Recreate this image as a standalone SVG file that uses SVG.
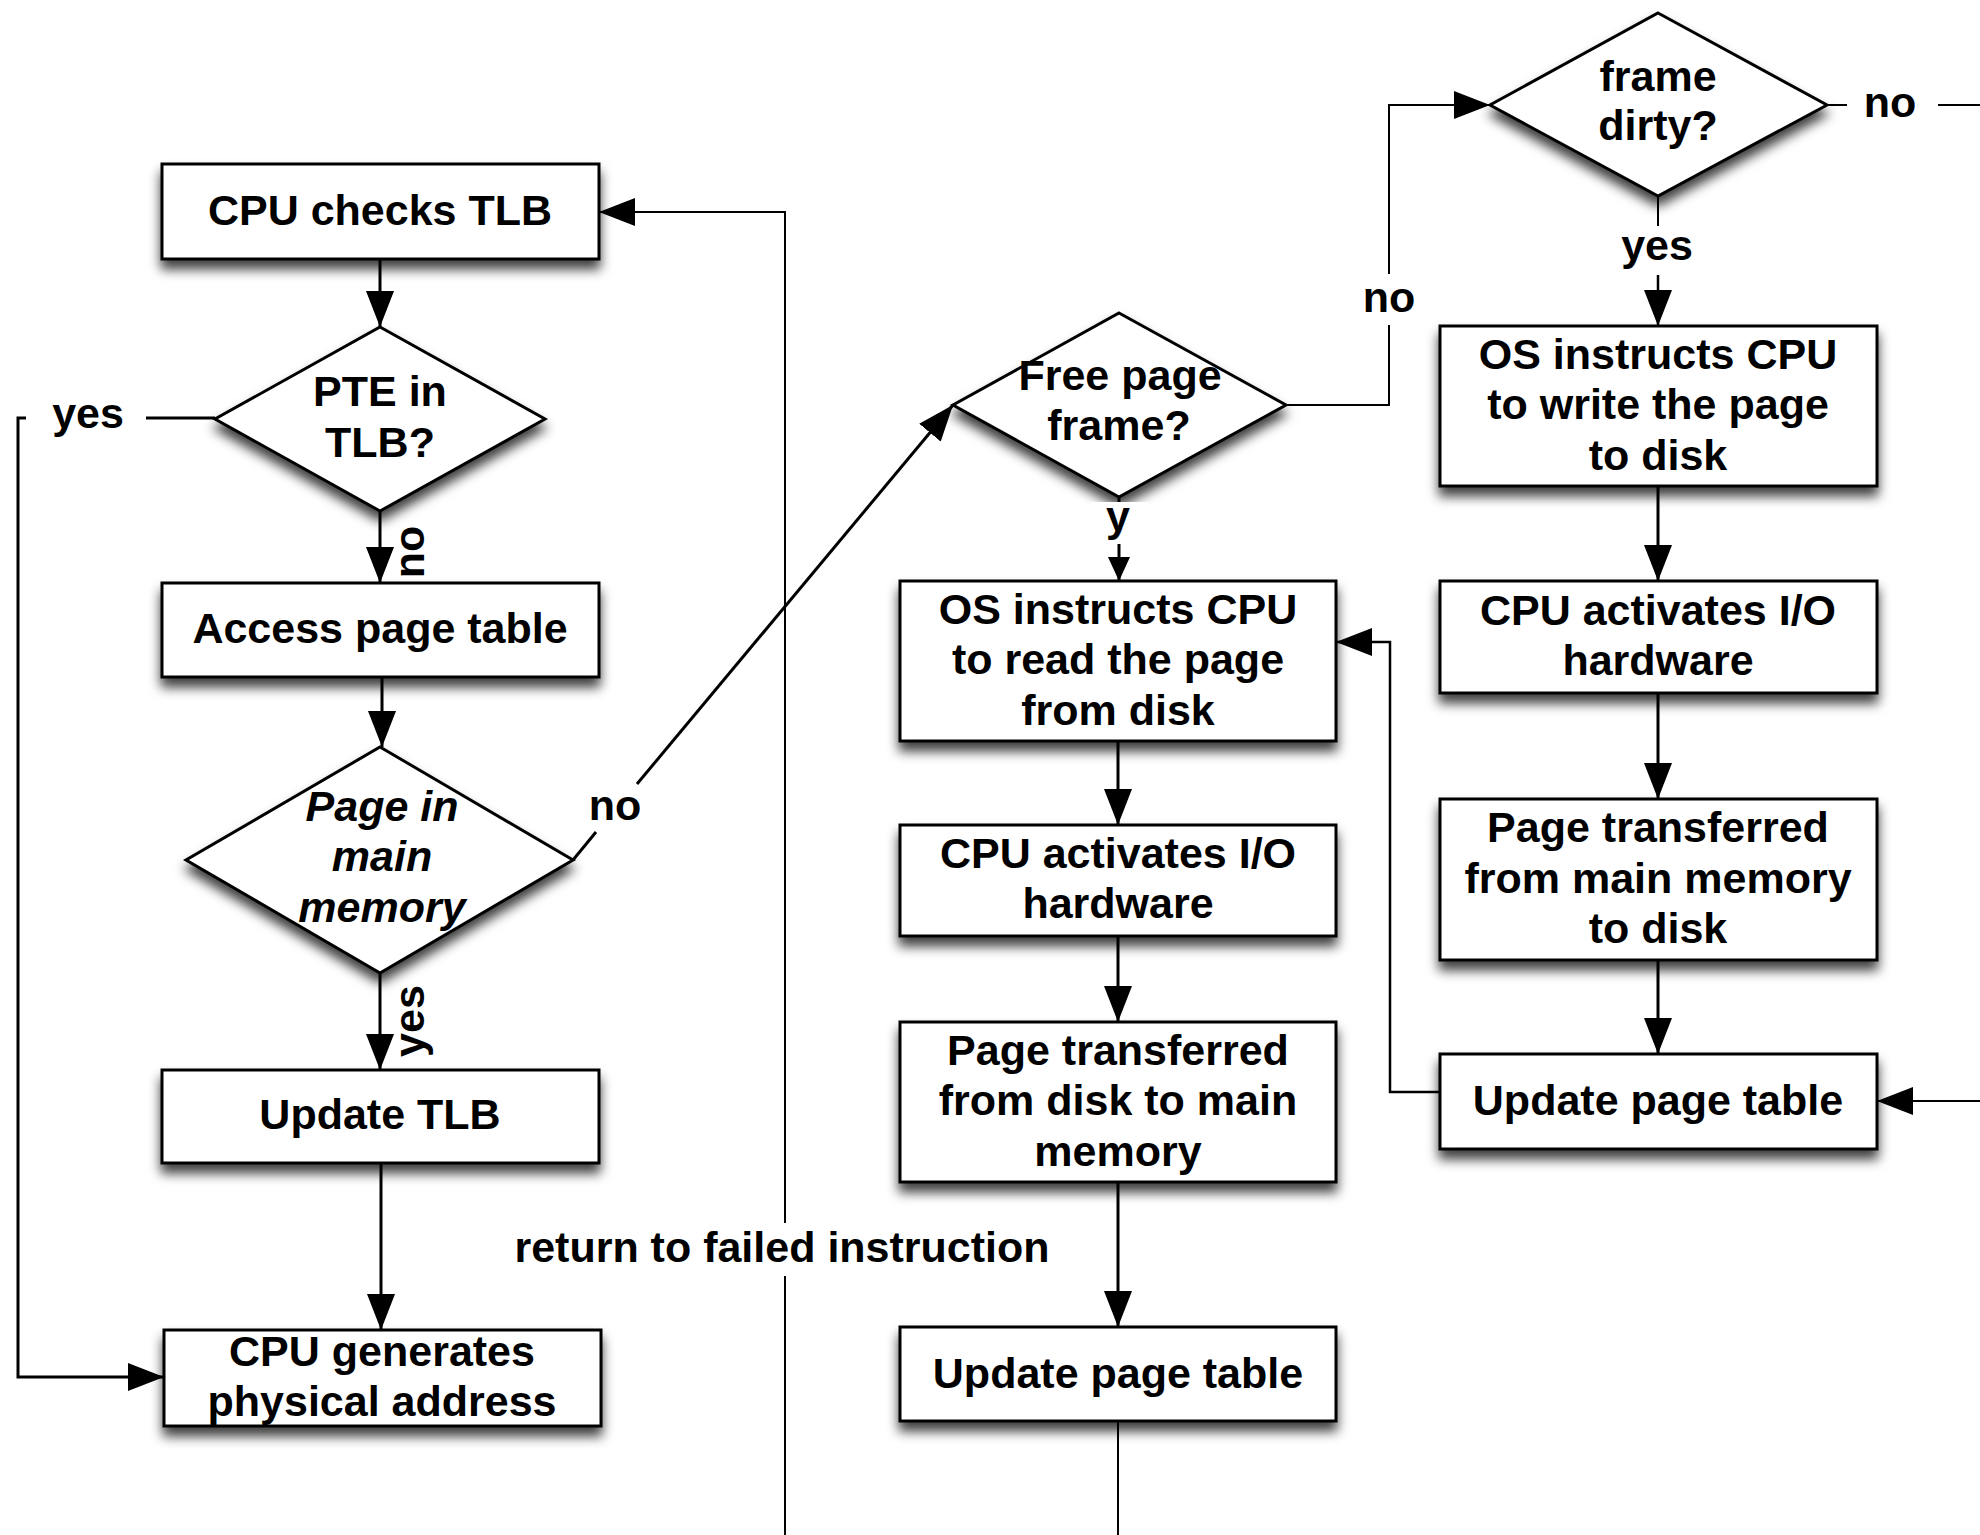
<svg xmlns="http://www.w3.org/2000/svg" width="1980" height="1535" viewBox="0 0 1980 1535">
<style>
.bg{fill:#fff}
.box{fill:#fff;stroke:#000;stroke-width:3;filter:url(#sh)}
.t{font-family:"Liberation Sans",Arial,Helvetica,sans-serif;font-weight:bold;font-size:43px;text-anchor:middle;fill:#000}
.ti{font-style:italic}
.c{fill:none;stroke:#000;stroke-width:3}
.thin{stroke-width:2}
.mid{stroke-width:2.5}
</style>
<defs>
<filter id="sh" x="-15%" y="-25%" width="130%" height="170%">
<feDropShadow dx="0" dy="9" stdDeviation="6" flood-color="#000" flood-opacity="0.75"/>
</filter>
<marker id="ah" markerUnits="userSpaceOnUse" markerWidth="37" markerHeight="28" refX="36" refY="14" orient="auto">
<path d="M0,0 L36,14 L0,28 z" fill="#000"/>
</marker>
<marker id="ahs" markerUnits="userSpaceOnUse" markerWidth="25" markerHeight="22" refX="24" refY="11" orient="auto">
<path d="M0,0 L24,11 L0,22 z" fill="#000"/>
</marker>
</defs>
<rect class="bg" x="0" y="0" width="1980" height="1535"/>

<g id="n1"><rect class="box" x="162" y="164" width="437" height="95"/><text class="t" x="380" y="225">CPU checks TLB</text></g>
<g id="n2"><polygon class="box" points="380,327 545,419 380,511 215,419"/><text class="t" x="380" y="406">PTE in</text><text class="t" x="380" y="457">TLB?</text></g>
<g id="n3"><rect class="box" x="162" y="583" width="437" height="94"/><text class="t" x="380" y="643">Access page table</text></g>
<g id="n4"><polygon class="box" points="380,747 573,860 380,973 186,860"/><text class="t ti" x="382" y="821">Page in</text><text class="t ti" x="382" y="871">main</text><text class="t ti" x="382" y="922">memory</text></g>
<g id="n5"><rect class="box" x="162" y="1070" width="437" height="93"/><text class="t" x="380" y="1129">Update TLB</text></g>
<g id="n6"><rect class="box" x="164" y="1330" width="437" height="96"/><text class="t" x="382" y="1366">CPU generates</text><text class="t" x="382" y="1416">physical address</text></g>
<g id="n7"><polygon class="box" points="1119,313 1286,405 1119,497 953,405"/><text class="t" x="1120" y="390">Free page</text><text class="t" x="1119" y="440">frame?</text></g>
<g id="n8"><rect class="box" x="900" y="581" width="436" height="160"/><text class="t" x="1118" y="624">OS instructs CPU</text><text class="t" x="1118" y="674">to read the page</text><text class="t" x="1118" y="725">from disk</text></g>
<g id="n9"><rect class="box" x="900" y="825" width="436" height="111"/><text class="t" x="1118" y="868">CPU activates I/O</text><text class="t" x="1118" y="918">hardware</text></g>
<g id="n10"><rect class="box" x="900" y="1022" width="436" height="160"/><text class="t" x="1118" y="1065">Page transferred</text><text class="t" x="1118" y="1115">from disk to main</text><text class="t" x="1118" y="1166">memory</text></g>
<g id="n11"><rect class="box" x="900" y="1327" width="436" height="94"/><text class="t" x="1118" y="1388">Update page table</text></g>
<g id="n12"><polygon class="box" points="1658,13 1827,105 1658,196 1490,105"/><text class="t" x="1658" y="91">frame</text><text class="t" x="1658" y="140">dirty?</text></g>
<g id="n13"><rect class="box" x="1440" y="326" width="437" height="160"/><text class="t" x="1658" y="369">OS instructs CPU</text><text class="t" x="1658" y="419">to write the page</text><text class="t" x="1658" y="470">to disk</text></g>
<g id="n14"><rect class="box" x="1440" y="581" width="437" height="112"/><text class="t" x="1658" y="625">CPU activates I/O</text><text class="t" x="1658" y="675">hardware</text></g>
<g id="n15"><rect class="box" x="1440" y="799" width="437" height="161"/><text class="t" x="1658" y="842">Page transferred</text><text class="t" x="1658" y="893">from main memory</text><text class="t" x="1658" y="943">to disk</text></g>
<g id="n16"><rect class="box" x="1440" y="1054" width="437" height="95"/><text class="t" x="1658" y="1115">Update page table</text></g>

<g id="connectors">
<path class="c" d="M380,259 V327" marker-end="url(#ah)"/>
<path class="c" d="M380,511 V583" marker-end="url(#ah)"/>
<path class="c" d="M382,677 V747" marker-end="url(#ah)"/>
<path class="c" d="M380,973 V1070" marker-end="url(#ah)"/>
<path class="c" d="M381,1163 V1330" marker-end="url(#ah)"/>
<path class="c" d="M215,418 H146"/>
<path class="c" d="M26,418 H18 V1377 H164" marker-end="url(#ah)"/>
<path class="c" d="M573,860 L596,832"/>
<path class="c" d="M637,784 L953,405" marker-end="url(#ah)"/>
<path class="c thin" d="M785,1535 V1276"/>
<path class="c thin" d="M785,1223 V212 H599" marker-end="url(#ah)"/>
<path class="c" d="M1119,497 V581" marker-end="url(#ahs)"/>
<path class="c thin" d="M1286,405 H1389 V325"/>
<path class="c thin" d="M1389,274 V105 H1490" marker-end="url(#ah)"/>
<path class="c thin" d="M1827,105 H1847"/>
<path class="c thin" d="M1938,105 H1980"/>
<path class="c thin" d="M1658,196 V226"/>
<path class="c mid" d="M1658,275 V326" marker-end="url(#ah)"/>
<path class="c" d="M1658,486 V581" marker-end="url(#ah)"/>
<path class="c" d="M1658,693 V799" marker-end="url(#ah)"/>
<path class="c" d="M1658,960 V1054" marker-end="url(#ah)"/>
<path class="c thin" d="M1980,1101 H1877" marker-end="url(#ah)"/>
<path class="c mid" d="M1440,1092 H1390 V642 H1336" marker-end="url(#ah)"/>
<path class="c" d="M1118,741 V825" marker-end="url(#ah)"/>
<path class="c" d="M1118,936 V1022" marker-end="url(#ah)"/>
<path class="c" d="M1118,1182 V1327" marker-end="url(#ah)"/>
<path class="c thin" d="M1118,1421 V1535"/>
</g>

<g id="labels">
<text class="t" x="88" y="428">yes</text>
<text class="t" transform="translate(424,552) rotate(-90)">no</text>
<text class="t" transform="translate(424,1021) rotate(-90)">yes</text>
<text class="t" x="615" y="820">no</text>
<rect x="1090" y="502" width="58" height="42" fill="#fff"/>
<text class="t" x="1118" y="531">y</text>
<text class="t" x="1389" y="312">no</text>
<text class="t" x="1890" y="117">no</text>
<text class="t" x="1657" y="260">yes</text>
<text class="t" x="782" y="1262">return to failed instruction</text>
</g>
</svg>
